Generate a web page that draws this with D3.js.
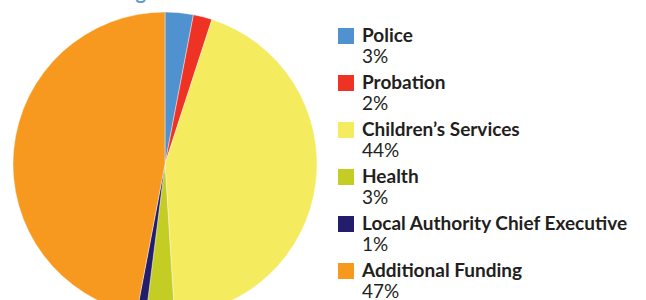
<html>
<head>
<script src="https://d3js.org/d3.v7.min.js"></script>
<style>
  body { margin: 0; background: #fff; }
  text { font-family: Lato, "Open Sans", sans-serif; }
</style>
</head>
<body>
<svg id="chart" width="646" height="300"></svg>
<script>
const labels = ['Police', 'Probation', 'Children\u2019s Services', 'Health', 'Local Authority Chief Executive', 'Additional Funding'];
const shares = [3, 2, 44, 3, 1, 47];
const colours = ['#4f92cf', '#ee3325', '#f5eb5e', '#c3cd24', '#231e6b', '#f7991f'];

const svg = d3.select('svg#chart');
const cx = 165, cy = 164, radius = 152;

// title, cut off by the top edge
svg.append('text')
  .attr('x', 27)
  .attr('y', -1)
  .attr('fill', '#5b9bd5')
  .attr('font-size', 20)
  .attr('font-weight', 700)
  .text('Local funding contributions');

const pie = d3.pie().sort(null).value(d => d);
const arc = d3.arc().innerRadius(0).outerRadius(radius);

const g = svg.append('g').attr('transform', `translate(${cx},${cy})`);
g.selectAll('path')
  .data(pie(shares))
  .join('path')
  .attr('d', arc)
  .attr('fill', (d, i) => colours[i])
  .attr('stroke', '#fff')
  .attr('stroke-width', 0.4);

// legend
const rowY = d3.scaleLinear().domain([0, 1]).range([28, 75]);
const legend = svg.append('g').attr('transform', 'translate(338,0)');
const rows = legend.selectAll('g')
  .data(labels)
  .join('g')
  .attr('transform', (d, i) => `translate(0,${rowY(i)})`);

rows.append('rect')
  .attr('width', 16)
  .attr('height', 16)
  .attr('fill', (d, i) => colours[i]);

rows.append('text')
  .attr('x', 24)
  .attr('y', 13.5)
  .attr('font-size', 19)
  .attr('font-weight', 700)
  .attr('fill', '#231f20')
  .text(d => d);

rows.append('text')
  .attr('x', 24)
  .attr('y', 35)
  .attr('font-size', 19)
  .attr('fill', '#231f20')
  .text((d, i) => shares[i] + '%');
</script>
</body>
</html>
